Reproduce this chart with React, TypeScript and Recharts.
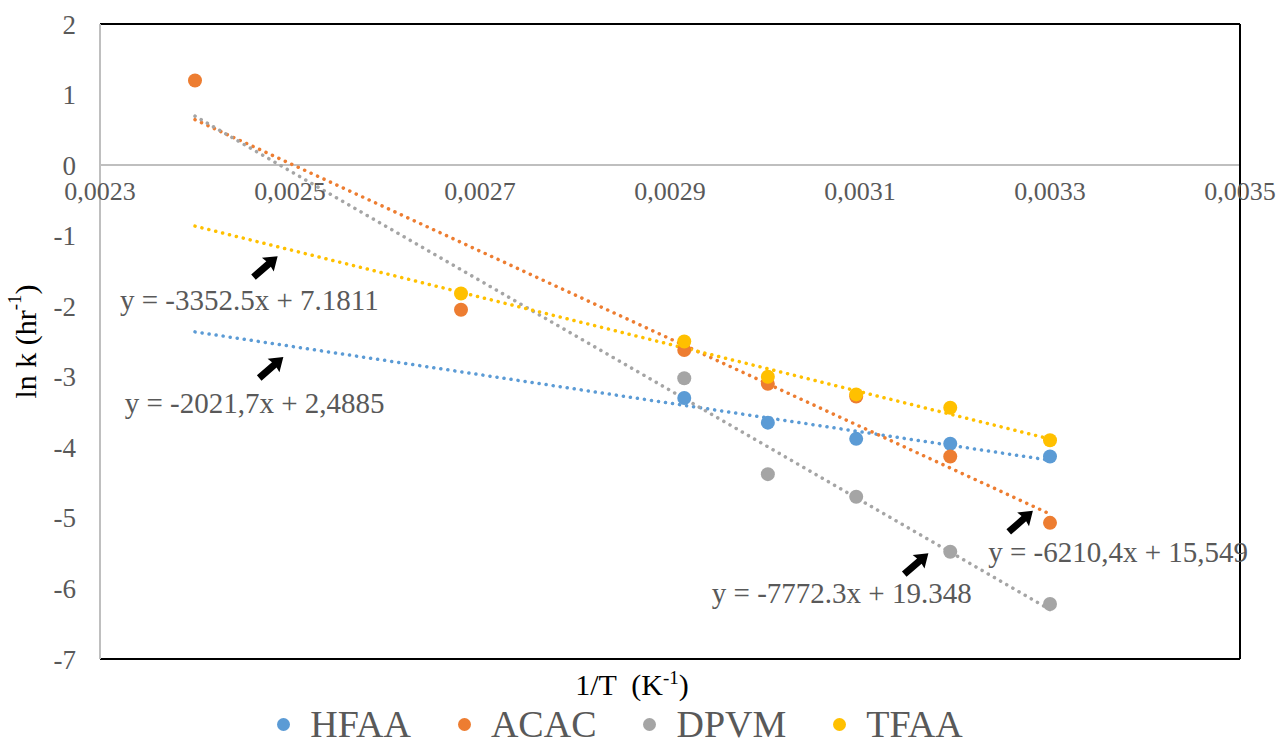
import React from 'react';
import {
  ComposedChart,
  Scatter,
  Line,
  XAxis,
  YAxis,
  ReferenceLine,
  ReferenceDot,
  Legend,
  Label,
} from 'recharts';

const FONT = '"Liberation Serif", "DejaVu Serif", serif';
const TEXT = '#595959';
const GRID = '#BFBFBF';

const xTicks = [0.0023, 0.0025, 0.0027, 0.0029, 0.0031, 0.0033, 0.0035];
const xTickLabels = ['0,0023', '0,0025', '0,0027', '0,0029', '0,0031', '0,0033', '0,0035'];
const yTicks = [2, 1, 0, -1, -2, -3, -4, -5, -6, -7];

// measured points (1/T, ln k)
const hfaa = [
  { x: 0.002915, y: -3.3 },
  { x: 0.003003, y: -3.65 },
  { x: 0.003096, y: -3.88 },
  { x: 0.003195, y: -3.95 },
  { x: 0.0033, y: -4.13 },
];
const acac = [
  { x: 0.0024, y: 1.2 },
  { x: 0.00268, y: -2.05 },
  { x: 0.002915, y: -2.62 },
  { x: 0.003003, y: -3.1 },
  { x: 0.003096, y: -3.28 },
  { x: 0.003195, y: -4.13 },
  { x: 0.0033, y: -5.07 },
];
const dpvm = [
  { x: 0.002915, y: -3.02 },
  { x: 0.003003, y: -4.38 },
  { x: 0.003096, y: -4.7 },
  { x: 0.003195, y: -5.48 },
  { x: 0.0033, y: -6.22 },
];
const tfaa = [
  { x: 0.00268, y: -1.82 },
  { x: 0.002915, y: -2.5 },
  { x: 0.003003, y: -3.0 },
  { x: 0.003096, y: -3.25 },
  { x: 0.003195, y: -3.44 },
  { x: 0.0033, y: -3.9 },
];

// trendline end points, from the fitted equations
const hfaaFit = [
  { x: 0.0024, y: -2.3636 },
  { x: 0.0033, y: -4.1831 },
];
const acacFit = [
  { x: 0.0024, y: 0.644 },
  { x: 0.0033, y: -4.9453 },
];
const dpvmFit = [
  { x: 0.0024, y: 0.6945 },
  { x: 0.0033, y: -6.3006 },
];
const tfaaFit = [
  { x: 0.0024, y: -0.8649 },
  { x: 0.0033, y: -3.8822 },
];

const equations = [
  { x: 0.002321, y: -1.91, text: 'y = -3352.5x + 7.1811' },
  { x: 0.002326, y: -3.37, text: 'y = -2021,7x + 2,4885' },
  { x: 0.002944, y: -6.06, text: 'y = -7772.3x + 19.348' },
  { x: 0.003235, y: -5.48, text: 'y = -6210,4x + 15,549' },
];
const arrows = [
  { x: 0.002487, y: -1.29 },
  { x: 0.002493, y: -2.72 },
  { x: 0.003172, y: -5.5 },
  { x: 0.003282, y: -4.9 },
];

const series = [
  { name: 'HFAA', color: '#5B9BD5', data: hfaa, fit: hfaaFit },
  { name: 'ACAC', color: '#ED7D31', data: acac, fit: acacFit },
  { name: 'DPVM', color: '#A5A5A5', data: dpvm, fit: dpvmFit },
  { name: 'TFAA', color: '#FFC000', data: tfaa, fit: tfaaFit },
];

function Arrow({ cx, cy }: any) {
  return (
    <polygon
      transform={`translate(${cx},${cy}) rotate(-41)`}
      points="0,0 -13,-9 -12,-3.5 -32,-3.5 -32,3.5 -12,3.5 -13,9"
      fill="#000"
    />
  );
}

// only the four measured series go in the legend, in their own order
function LegendContent() {
  return (
    <div
      style={{
        display: 'flex',
        justifyContent: 'center',
        alignItems: 'center',
        gap: 47,
        height: 44,
        paddingRight: 40,
        fontFamily: FONT,
        fontSize: 38,
        color: TEXT,
      }}
    >
      {series.map((s) => (
        <div key={s.name} style={{ display: 'flex', alignItems: 'center', gap: 20 }}>
          <span
            style={{
              width: 13,
              height: 13,
              borderRadius: '50%',
              background: s.color,
              display: 'inline-block',
            }}
          />
          <span style={{ lineHeight: '44px' }}>{s.name}</span>
        </div>
      ))}
    </div>
  );
}

export default function App() {
  return (
    <div style={{ position: 'absolute', left: 0, top: 0 }}>
      <ComposedChart
        width={1280}
        height={744}
        margin={{ top: 24, right: 40, left: 40, bottom: 7 }}
      >
        <XAxis
          type="number"
          dataKey="x"
          domain={[0.0023, 0.0035]}
          ticks={xTicks}
          allowDataOverflow
          axisLine={false}
          tickLine={false}
          tick={false}
          height={34}
        >
          <Label
            content={({ viewBox }: any) => (
              <text
                x={viewBox.x + viewBox.width / 2 - 38}
                y={viewBox.y + 36}
                textAnchor="middle"
                fontFamily={FONT}
                fontSize={30}
                fill="#000"
                style={{ whiteSpace: 'pre' }}
              >
                {'1/T  (K'}
                <tspan dy={-11} fontSize={19}>
                  -1
                </tspan>
                <tspan dy={11}>)</tspan>
              </text>
            )}
          />
        </XAxis>
        <YAxis
          type="number"
          dataKey="y"
          domain={[-7, 2]}
          ticks={yTicks}
          interval={0}
          width={60}
          axisLine={{ stroke: GRID, strokeWidth: 2 }}
          tickLine={false}
          tickSize={0}
          tickMargin={24}
          tick={{ fontFamily: FONT, fontSize: 27, fill: TEXT }}
        >
          <Label
            content={({ viewBox }: any) => {
              const cx = 25;
              const cy = viewBox.y + viewBox.height / 2;
              return (
                <text
                  x={cx}
                  y={cy}
                  transform={`rotate(-90, ${cx}, ${cy})`}
                  textAnchor="middle"
                  dominantBaseline="central"
                  fontFamily={FONT}
                  fontSize={30}
                  fill="#000"
                >
                  {'ln k (hr'}
                  <tspan dy={-11} fontSize={19}>
                    -1
                  </tspan>
                  <tspan dy={11}>)</tspan>
                </text>
              );
            }}
          />
        </YAxis>

        <ReferenceLine y={0} stroke={GRID} strokeWidth={2} />
        <ReferenceLine y={2} stroke="#000" strokeWidth={2} />
        <ReferenceLine y={-7} stroke="#000" strokeWidth={2} />
        <ReferenceLine x={0.0035} stroke="#000" strokeWidth={2} />

        {xTicks.map((t, i) => (
          <ReferenceDot
            key={t}
            x={t}
            y={0}
            r={0}
            shape={({ cx, cy }: any) => (
              <text
                x={cx}
                y={cy + 35}
                textAnchor="middle"
                fontFamily={FONT}
                fontSize={26}
                fill={TEXT}
              >
                {xTickLabels[i]}
              </text>
            )}
          />
        ))}

        {series.map((s) => (
          <Line
            key={s.name + '-fit'}
            data={s.fit}
            dataKey="y"
            stroke={s.color}
            strokeWidth={3.5}
            strokeDasharray="0.1 7"
            strokeLinecap="round"
            dot={false}
            activeDot={false}
            legendType="none"
            isAnimationActive={false}
          />
        ))}

        {series.map((s) => (
          <Scatter
            key={s.name}
            name={s.name}
            data={s.data}
            fill={s.color}
            isAnimationActive={false}
            shape={({ cx, cy }: any) => <circle cx={cx} cy={cy} r={7} fill={s.color} />}
          />
        ))}

        {equations.map((e) => (
          <ReferenceDot
            key={e.text}
            x={e.x}
            y={e.y}
            r={0}
            shape={({ cx, cy }: any) => (
              <text
                x={cx}
                y={cy}
                dominantBaseline="central"
                fontFamily={FONT}
                fontSize={29}
                fill={TEXT}
              >
                {e.text}
              </text>
            )}
          />
        ))}
        {arrows.map((a, i) => (
          <ReferenceDot key={'arrow' + i} x={a.x} y={a.y} r={0} shape={Arrow} />
        ))}

        <Legend
          verticalAlign="bottom"
          height={44}
          wrapperStyle={{ bottom: -2 }}
          content={LegendContent}
        />
      </ComposedChart>
    </div>
  );
}
